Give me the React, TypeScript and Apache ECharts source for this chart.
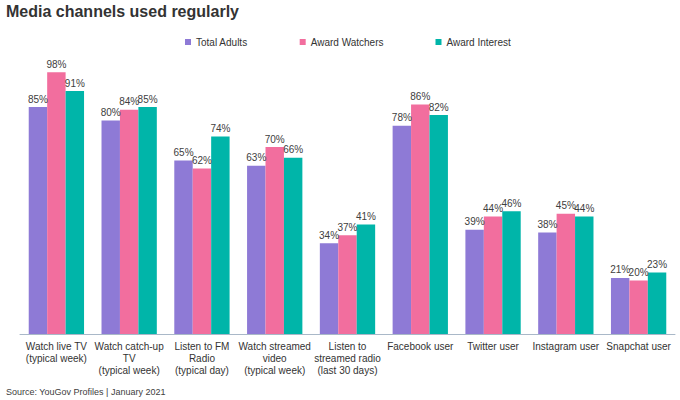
import React, { useEffect, useRef } from "react";
import * as echarts from "echarts";

const categories = [
  "Watch live TV\n(typical week)",
  "Watch catch-up\nTV\n(typical week)",
  "Listen to FM\nRadio\n(typical day)",
  "Watch streamed\nvideo\n(typical week)",
  "Listen to\nstreamed radio\n(last 30 days)",
  "Facebook user",
  "Twitter user",
  "Instagram user",
  "Snapchat user",
];
const totalAdults = [85, 80, 65, 63, 34, 78, 39, 38, 21];
const awardWatchers = [98, 84, 62, 70, 37, 86, 44, 45, 20];
const awardInterest = [91, 85, 74, 66, 41, 82, 46, 44, 23];
const seriesNames = ["Total Adults", "Award Watchers", "Award Interest"];
const colors = ["#8E7AD6", "#F26E9E", "#00B5A9"];

export default function App() {
  const ref = useRef<HTMLDivElement>(null);
  useEffect(() => {
    if (!ref.current) return;
    const chart = echarts.init(ref.current, null, { renderer: "svg" });
    const font = "Liberation Sans, Arial, sans-serif";
    const mk = (name: string, data: number[], color: string) => ({
      name,
      type: "bar",
      data,
      itemStyle: { color },
      barGap: "0%",
      barCategoryGap: "24%",
      label: {
        show: true,
        position: "top",
        distance: 3,
        formatter: "{c}%",
        color: "#404040",
        fontSize: 10,
        fontFamily: font,
      },
    });
    chart.setOption({
      animation: false,
      textStyle: { fontFamily: font },
      title: {
        text: "Media channels used regularly",
        left: 6,
        top: 3,
        padding: 0,
        textStyle: { fontSize: 16, fontWeight: "bold", color: "#333", fontFamily: font },
      },
      legend: {
        data: seriesNames,
        left: 180,
        top: 32,
        itemWidth: 6,
        itemHeight: 6,
        itemGap: 52,
        icon: "rect",
        textStyle: { fontSize: 10, color: "#333", fontFamily: font },
      },
      graphic: [
        {
          type: "text",
          left: 6,
          top: 387,
          style: {
            text: "Source: YouGov Profiles | January 2021",
            fontSize: 9,
            fill: "#404040",
            fontFamily: font,
          },
        },
      ],
      grid: { left: 20, right: 5, top: 67, bottom: 66, containLabel: false },
      xAxis: {
        type: "category",
        data: categories,
        axisLine: { lineStyle: { color: "#A9B8C8" } },
        axisTick: { show: false },
        axisLabel: {
          interval: 0,
          fontSize: 10,
          lineHeight: 12,
          color: "#333",
          margin: 6,
          fontFamily: font,
        },
      },
      yAxis: {
        type: "value",
        min: 0,
        max: 100,
        show: false,
        splitLine: { show: false },
      },
      series: [
        mk(seriesNames[0], totalAdults, colors[0]),
        mk(seriesNames[1], awardWatchers, colors[1]),
        mk(seriesNames[2], awardInterest, colors[2]),
      ],
    });
    return () => chart.dispose();
  }, []);
  return (
    <div
      ref={ref}
      style={{ position: "absolute", left: 0, top: 0, width: 680, height: 400 }}
    />
  );
}
